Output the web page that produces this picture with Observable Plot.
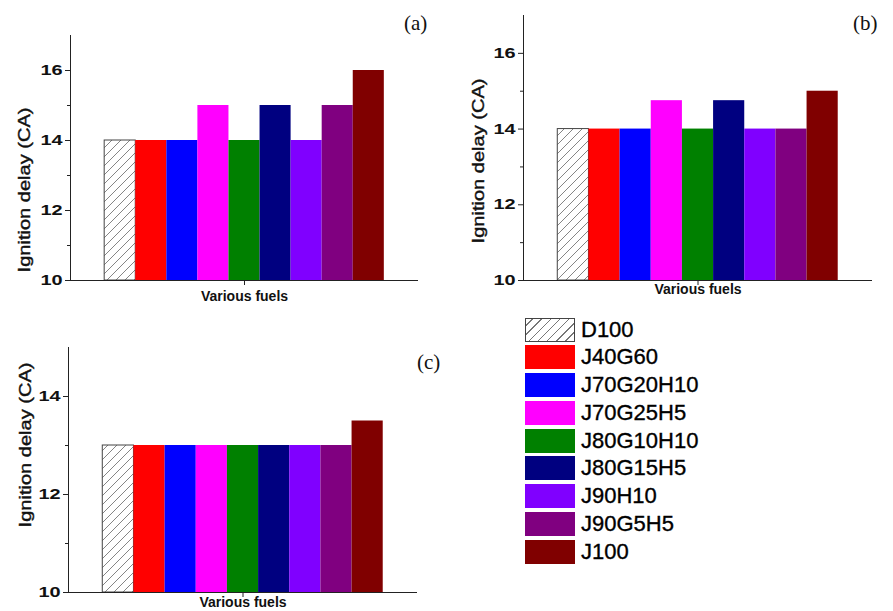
<!DOCTYPE html>
<html>
<head>
<meta charset="utf-8">
<script src="https://cdn.jsdelivr.net/npm/d3@7"></script>
<script src="https://cdn.jsdelivr.net/npm/@observablehq/plot@0.6"></script>
<style>
  html, body { margin: 0; padding: 0; background: #fff; }
  #root { position: relative; width: 893px; height: 611px; overflow: hidden; background: #fff; font-family: "Liberation Sans", Arial, sans-serif; }
  .panel { position: absolute; }
  .plabel { position: absolute; font-family: "Liberation Serif", "DejaVu Serif", serif; font-size: 21px; color: #111; line-height: 1; }
  .lrow { position: absolute; left: 525px; height: 25px; display: flex; align-items: center; }
  .lbox { width: 50px; height: 24px; box-sizing: border-box; margin-right: 6px; }
  .ltext { font-size: 22px; color: #000; line-height: 1; -webkit-text-stroke: 0.35px #000; }
</style>
</head>
<body>
<div id="root"></div>
<script>
// ---- data ----
const fuels = ["D100", "J40G60", "J70G20H10", "J70G25H5", "J80G10H10", "J80G15H5", "J90H10", "J90G5H5", "J100"];
const fuelColors = ["url(#hatch)", "#ff0000", "#0000ff", "#ff00ff", "#008000", "#000080", "#8000ff", "#800080", "#800000"];
const delayA = [14, 14, 14, 15, 14, 15, 14, 15, 16];
const delayB = [14, 14, 14, 14.75, 14, 14.75, 14, 14, 15];
const delayC = [13, 13, 13, 13, 13, 13, 13, 13, 13.5];
const majorTicksAB = [10, 12, 14, 16];
const minorTicksAB = [11, 13, 15];
const majorTicksC = [10, 12, 14];
const minorTicksC = [11, 13];
const yLabel = "Ignition delay (CA)";
const xLabel = "Various fuels";
const panelNames = ["(a)", "(b)", "(c)"];

const root = document.getElementById("root");

function makePanel(values, opts) {
  const data = fuels.map((f, i) => ({fuel: f, i, v: values[i], fill: fuelColors[i]}));
  const xDomain = [-1.1, fuels.length + 1.1];
  const y0 = opts.yDomain[0];
  const svg = Plot.plot({
    width: opts.width,
    height: opts.height,
    marginLeft: opts.ml, marginRight: opts.mr, marginTop: opts.mt, marginBottom: opts.mb,
    style: {fontFamily: "'Liberation Sans', Arial, sans-serif", background: "transparent", color: "#111", overflow: "visible"},
    x: {domain: xDomain, axis: null},
    y: {domain: opts.yDomain, axis: null},
    color: {type: "identity"},
    marks: [
      Plot.rectY(data, {x1: "i", x2: d => d.i + 1, y1: () => y0, y2: "v", fill: "fill",
        stroke: d => d.fuel === "D100" ? "#444" : "none", strokeWidth: 1}),
      Plot.ruleX([xDomain[0]], {stroke: "#222", strokeWidth: 1}),
      Plot.ruleY([y0], {stroke: "#222", strokeWidth: 1}),
      Plot.axisY({ticks: opts.major, tickSize: 5, tickPadding: 3, fontSize: 14, fontWeight: "bold", label: null, tickFormat: d => d, stroke: "#222"}),
      Plot.axisY({ticks: opts.minor, tickSize: 3, tickFormat: () => "", label: null, stroke: "#222"}),
      Plot.axisX({ticks: [fuels.length / 2], tickSize: 5, tickFormat: () => "", label: null, stroke: "#222"}),
      Plot.text([xLabel], {frameAnchor: "bottom", dy: opts.xlDy, fontSize: 14, fontWeight: "bold", fill: "#111"}),
      Plot.text([yLabel], {frameAnchor: "left", textAnchor: "middle", rotate: -90, dx: opts.ylDx, dy: opts.ylDy, fontSize: 17, fill: "#111"})
    ]
  });
  const s = d3.select(svg);
  const defs = s.insert("defs", ":first-child");
  const p = defs.append("pattern").attr("id", "hatch").attr("patternUnits", "userSpaceOnUse")
    .attr("width", 9).attr("height", 9);
  p.append("rect").attr("width", 9).attr("height", 9).attr("fill", "#fff");
  p.append("path").attr("d", "M0,9L9,0M-1,1L1,-1M8,10L10,8").attr("stroke", "#777").attr("stroke-width", 0.9);
  // the reference's lettering is drawn wide: stretch along the reading direction
  s.selectAll('g[aria-label="y-axis tick label"] text')
    .attr("font-weight", "bold").attr("font-size", 14)
    .attr("transform", function() { return (this.getAttribute("transform") || "") + " scale(1.42,1)"; });
  s.selectAll("text").filter(function() { return this.textContent === yLabel; })
    .attr("stroke", "#111").attr("stroke-width", 0.4)
    .attr("transform", function() { return (this.getAttribute("transform") || "") + " scale(1.18,1)"; });
  svg.classList.add("panel");
  svg.style.left = opts.left + "px";
  svg.style.top = opts.top + "px";
  root.appendChild(svg);
}

makePanel(delayA, {yDomain: [10, 17], major: majorTicksAB, minor: minorTicksAB, width: 450, height: 310,
  ml: 70, mr: 32, mt: 35, mb: 30, left: 0, top: 0, xlDy: 20, ylDx: -46, ylDy: 32});
makePanel(delayB, {yDomain: [10, 17], major: majorTicksAB, minor: minorTicksAB, width: 443, height: 310,
  ml: 73, mr: 21, mt: 15, mb: 30, left: 450, top: 0, xlDy: 13, ylDx: -45, ylDy: 13});
makePanel(delayC, {yDomain: [10, 15], major: majorTicksC, minor: minorTicksC, width: 450, height: 301,
  ml: 68, mr: 33, mt: 37, mb: 19, left: 0, top: 310, xlDy: 14, ylDx: -43, ylDy: -25});

// panel labels
const labelPos = [[404, 13], [853, 13], [417, 352]];
panelNames.forEach((t, i) => {
  const d = document.createElement("div");
  d.className = "plabel";
  d.textContent = t;
  d.style.left = labelPos[i][0] + "px";
  d.style.top = labelPos[i][1] + "px";
  root.appendChild(d);
});

// legend
fuels.forEach((f, i) => {
  const row = document.createElement("div");
  row.className = "lrow";
  row.style.top = (317 + i * 27.75) + "px";
  const box = document.createElement("div");
  box.className = "lbox";
  if (i === 0) {
    box.style.background = "repeating-linear-gradient(-45deg, #fff 0px, #fff 5.5px, #777 5.5px, #777 6.5px)";
    box.style.border = "1px solid #444";
  } else {
    box.style.background = fuelColors[i];
  }
  const txt = document.createElement("span");
  txt.className = "ltext";
  txt.textContent = f;
  row.appendChild(box);
  row.appendChild(txt);
  root.appendChild(row);
});
</script>
</body>
</html>
